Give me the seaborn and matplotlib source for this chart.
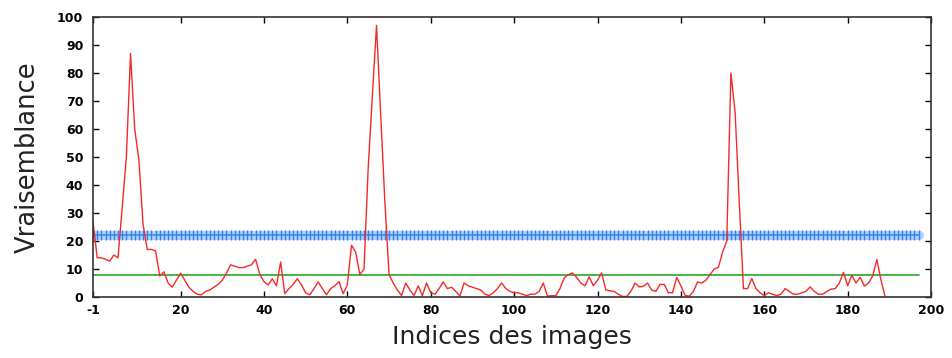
import numpy as np
import pandas as pd
import matplotlib
matplotlib.use("Agg")
import matplotlib.pyplot as plt
import seaborn as sns

# ---- data ----
red_x = list(range(-1, 190))
red_y = [27, 14, 14, 13.5, 12.8, 15, 14, 32, 50, 87, 60,          # -1..9
         49, 26, 17, 17, 16.5, 7.5, 9, 5, 3.5, 6,                 # 10..19
         8.5, 6, 3.5, 2, 1, 0.8, 2, 2.5, 3.5, 4.5,                # 20..29
         6, 8.5, 11.5, 11, 10.5, 10.5, 11, 11.5, 13.5, 8,         # 30..39
         5.5, 4.3, 6.5, 4, 12.5, 1.2, 3, 4.5, 6.5, 4.3,           # 40..49
         1.5, 0.8, 3, 5.4, 3, 0.8, 3, 4, 5.5, 1.2,                # 50..59
         4.3, 18.5, 16, 8, 10, 46, 72, 97, 65, 34,                # 60..69
         8, 5, 2.5, 0.5, 5, 2.5, 0.5, 4, 0.5, 5,                  # 70..79
         1.5, 1, 3, 5.4, 3, 3.5, 2, 0.3, 5, 4,                    # 80..89
         3.5, 3, 2.5, 1, 0.5, 1.5, 3, 5, 3, 2,                    # 90..99
         1.5, 1.5, 1, 0.5, 1, 1, 2, 5, 0.3, 0.5,                  # 100..109
         0.5, 3, 6.8, 8, 8.6, 7, 5, 4, 7.2, 4,                    # 110..119
         6, 8.6, 2.5, 2.2, 2, 1, 0.2, 0.2, 2, 5,                  # 120..129
         3.6, 3.8, 5, 2.5, 2, 4.5, 4.5, 1.5, 1.5, 7,              # 130..139
         4, 0.6, 0.3, 2, 5.4, 5, 6, 8, 10, 10.6,                  # 140..149
         16, 20, 80, 66, 34, 3, 3, 6.6, 3, 1.5,                   # 150..159
         0.5, 1.5, 1, 0.5, 1, 3, 2, 1, 1, 1.5,                    # 160..169
         2, 3.6, 2, 1, 1, 2, 2.8, 3, 5, 8.8,                      # 170..179
         4, 7.8, 5, 7, 3.9, 5, 7.5, 13.4, 6, 0]                   # 180..189

ref_x = list(range(-1, 198))
blue_level = 22.2
green_level = 7.7

xticks = [-1, 20, 40, 60, 80, 100, 120, 140, 160, 180, 200]
yticks = [0, 10, 20, 30, 40, 50, 60, 70, 80, 90, 100]

red_df = pd.DataFrame({"x": red_x, "y": red_y})
ref_df = pd.DataFrame({"x": ref_x,
                       "blue": [blue_level] * len(ref_x),
                       "green": [green_level] * len(ref_x)})

sns.set_style("white")
fig = plt.figure(figsize=(9.52, 3.58), dpi=100)
ax = fig.add_axes([0.0977, 0.1704, 0.8803, 0.7821])

# blue threshold band
sns.lineplot(data=ref_df, x="x", y="blue", ax=ax, color="#9ccbff",
             linewidth=6.5, alpha=0.85)
sns.lineplot(data=ref_df, x="x", y="blue", ax=ax, color="#3f8cf2",
             linewidth=1.2, marker="|", markersize=7, markeredgewidth=1.0,
             markeredgecolor="#3b7fe8")
# green line
sns.lineplot(data=ref_df, x="x", y="green", ax=ax, color="#35b035", linewidth=1.3)
# red series
sns.lineplot(data=red_df, x="x", y="y", ax=ax, color="#f42a2a", linewidth=1.0)

ax.set_xlim(-1, 200)
ax.set_ylim(0, 100)
ax.set_xticks(xticks)
ax.set_yticks(yticks)
ax.set_xticklabels([str(t) for t in xticks], fontweight="bold", fontsize=9,
                   family="DejaVu Sans")
ax.set_yticklabels([str(t) for t in yticks], fontweight="bold", fontsize=9,
                   family="DejaVu Sans")
ax.tick_params(axis="x", direction="in", length=4, width=1, top=True,
               bottom=True, colors="black", pad=5)
ax.tick_params(axis="y", direction="in", length=4, width=1, left=True,
               right=True, colors="black", pad=7)
for s in ax.spines.values():
    s.set_visible(True)
    s.set_color("#333333")
    s.set_linewidth(1.2)

ax.set_xlabel("Indices des images", fontsize=18, labelpad=6, color="#222222")
ax.set_ylabel("Vraisemblance", fontsize=18.5, labelpad=12, color="#222222")

fig.savefig("out.png", dpi=100)
